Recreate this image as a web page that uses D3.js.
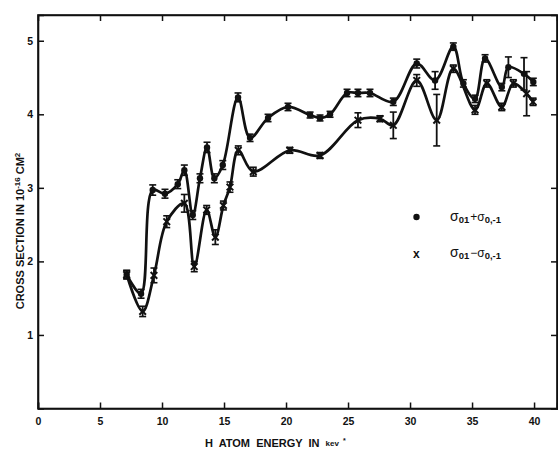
<!DOCTYPE html>
<html>
<head>
<meta charset="utf-8">
<script src="https://cdn.jsdelivr.net/npm/d3@7"></script>
<style>
  body { margin: 0; background: #fff; }
  svg { display: block; }
  text { font-family: "Liberation Sans", Arial, sans-serif; font-weight: bold; fill: #111; }
</style>
</head>
<body>
<svg id="chart" width="558" height="449"></svg>
<script>
// sigma01 + sigma0,-1 (dots)
var sumEnergy = [7.15, 8.31, 9.25, 10.24, 11.27, 11.8, 12.48, 13.06, 13.63, 14.22, 14.9, 16.13, 17.1, 18.55, 20.16, 21.94, 22.74, 23.55, 24.92, 25.8, 26.77, 28.65, 30.54, 32.02, 33.49, 34.3, 35.24, 36.05, 37.4, 37.93, 39.19, 39.94];
var sumValues = [1.82, 1.56, 2.97, 2.92, 3.05, 3.24, 2.63, 3.13, 3.55, 3.13, 3.31, 4.23, 3.68, 3.95, 4.1, 3.99, 3.95, 4.0, 4.29, 4.29, 4.29, 4.17, 4.69, 4.46, 4.92, 4.42, 4.21, 4.76, 4.37, 4.64, 4.55, 4.44];
var sumErrors = [0.06, 0.06, 0.07, 0.06, 0.06, 0.07, 0.06, 0.06, 0.07, 0.06, 0.06, 0.06, 0.05, 0.05, 0.05, 0.04, 0.04, 0.04, 0.05, 0.05, 0.05, 0.05, 0.06, 0.12, 0.05, 0.05, 0.05, 0.05, 0.05, 0.14, 0.22, 0.05];

// sigma01 - sigma0,-1 (crosses)
var diffEnergy = [7.15, 8.44, 9.35, 10.38, 11.8, 12.6, 13.6, 14.3, 14.95, 15.48, 16.15, 17.36, 20.3, 22.74, 25.8, 27.58, 28.65, 30.54, 32.15, 33.49, 35.24, 36.19, 37.4, 38.33, 39.4, 39.92];
var diffValues = [1.82, 1.32, 1.81, 2.54, 2.79, 1.93, 2.7, 2.33, 2.76, 3.01, 3.51, 3.22, 3.51, 3.44, 3.92, 3.94, 3.85, 4.46, 3.92, 4.62, 4.06, 4.42, 4.1, 4.42, 4.28, 4.17];
var diffErrors = [0.05, 0.07, 0.1, 0.08, 0.12, 0.07, 0.06, 0.1, 0.06, 0.07, 0.06, 0.06, 0.04, 0.04, 0.1, 0.04, 0.18, 0.08, 0.35, 0.05, 0.06, 0.05, 0.05, 0.05, 0.3, 0.05];

var xTicks = [0, 5, 10, 15, 20, 25, 30, 35, 40];
var yTicks = [1, 2, 3, 4, 5];

function Init() {
    var svg = d3.select("#chart");
    var padding = {top: 15, right: 1, bottom: 40.5, left: 38};
    var width = 558 - padding.left - padding.right;
    var height = 449 - padding.top - padding.bottom;

    var xScale = d3.scaleLinear().domain([0, 41.85]).range([0, width]);
    var yScale = d3.scaleLinear().domain([0, 5.35]).range([height, 0]);

    var g = svg.append("g")
       .attr("transform", "translate(" + padding.left + "," + padding.top + ")");

    // Axes, ticks pointing inward on all four sides
    g.append("g")
       .attr("transform", "translate(0," + height + ")")
       .call(d3.axisBottom(xScale).tickValues(xTicks).tickSize(-6).tickPadding(9).tickFormat(d3.format("d")));
    g.append("g")
       .call(d3.axisTop(xScale).tickValues(xTicks.slice(1)).tickSize(-6).tickFormat(""));
    g.append("g")
       .call(d3.axisLeft(yScale).tickValues(yTicks).tickSize(-6).tickPadding(5).tickFormat(d3.format("d")));
    g.append("g")
       .attr("transform", "translate(" + width + ",0)")
       .call(d3.axisRight(yScale).tickValues(yTicks).tickSize(-6).tickFormat(""));

    g.selectAll(".domain").attr("stroke", "#111").attr("stroke-width", 1.6);
    g.selectAll(".tick line").attr("stroke", "#111").attr("stroke-width", 1.5);
    g.selectAll(".tick text").style("font-size", "10.5px").style("font-weight", "bold")
       .style("font-family", "'Liberation Sans', Arial, sans-serif").attr("fill", "#111");

    // frame
    g.append("rect")
       .attr("width", width).attr("height", height)
       .attr("fill", "none").attr("stroke", "#111").attr("stroke-width", 1.6);

    var series = [
        {energy: sumEnergy, values: sumValues, errors: sumErrors, mark: "dot"},
        {energy: diffEnergy, values: diffValues, errors: diffErrors, mark: "cross"}
    ];

    var line = d3.line()
       .x(function(d) { return xScale(d.x); })
       .y(function(d) { return yScale(d.y); })
       .curve(d3.curveCatmullRom.alpha(0.5));

    series.forEach(function(s) {
        var pts = s.energy.map(function(e, i) { return {x: e, y: s.values[i], err: s.errors[i]}; });

        g.append("path")
           .datum(pts)
           .attr("d", line)
           .attr("fill", "none")
           .attr("stroke", "#111")
           .attr("stroke-width", 2.7)
           .attr("stroke-linejoin", "round");

        // error bars
        var bars = g.append("g").selectAll("g").data(pts).enter().append("g");
        bars.append("line")
           .attr("x1", function(d) { return xScale(d.x); })
           .attr("x2", function(d) { return xScale(d.x); })
           .attr("y1", function(d) { return yScale(d.y - d.err); })
           .attr("y2", function(d) { return yScale(d.y + d.err); })
           .attr("stroke", "#111").attr("stroke-width", 1.8);
        [-1, 1].forEach(function(sign) {
            bars.append("line")
               .attr("x1", function(d) { return xScale(d.x) - 3.5; })
               .attr("x2", function(d) { return xScale(d.x) + 3.5; })
               .attr("y1", function(d) { return yScale(d.y + sign * d.err); })
               .attr("y2", function(d) { return yScale(d.y + sign * d.err); })
               .attr("stroke", "#111").attr("stroke-width", 1.6);
        });

        if (s.mark == "dot") {
            bars.append("circle")
               .attr("cx", function(d) { return xScale(d.x); })
               .attr("cy", function(d) { return yScale(d.y); })
               .attr("r", 3.2)
               .attr("fill", "#111");
        } else {
            bars.append("path")
               .attr("d", function(d) {
                   var cx = xScale(d.x), cy = yScale(d.y), r = 3.3;
                   return "M" + (cx - r) + "," + (cy - r) + "L" + (cx + r) + "," + (cy + r) +
                          "M" + (cx - r) + "," + (cy + r) + "L" + (cx + r) + "," + (cy - r);
               })
               .attr("stroke", "#111").attr("stroke-width", 2);
        }
    });

    // Legend
    svg.append("circle").attr("cx", 416.5).attr("cy", 217).attr("r", 3.2).attr("fill", "#111");
    svg.append("text").attr("x", 413).attr("y", 257.5).style("font-size", "12px").text("x");

    var leg1 = svg.append("text").attr("x", 450).attr("y", 221).style("font-size", "14px").style("font-weight", "normal");
    leg1.append("tspan").text("σ");
    leg1.append("tspan").attr("dy", 2).style("font-size", "9.5px").style("font-weight", "bold").text("01");
    leg1.append("tspan").attr("dy", -2).attr("dx", 1).style("font-size", "12px").text("+σ");
    leg1.append("tspan").attr("dy", 2).style("font-size", "9.5px").style("font-weight", "bold").text("0,-1");

    var leg2 = svg.append("text").attr("x", 450).attr("y", 257).style("font-size", "14px").style("font-weight", "normal");
    leg2.append("tspan").text("σ");
    leg2.append("tspan").attr("dy", 2).style("font-size", "9.5px").style("font-weight", "bold").text("01");
    leg2.append("tspan").attr("dy", -2).attr("dx", 1).style("font-size", "12px").text("−σ");
    leg2.append("tspan").attr("dy", 2).style("font-size", "9.5px").style("font-weight", "bold").text("0,-1");

    // Axis titles
    var xt = svg.append("text")
       .attr("x", 205).attr("y", 447)
       .style("font-size", "11px")
       .style("white-space", "pre")
       .attr("xml:space", "preserve");
    xt.append("tspan").text("H  ATOM  ENERGY  IN ");
    xt.append("tspan").attr("dx", 3).attr("dy", -1).style("font-size", "8px").text("kev");
    xt.append("tspan").attr("dx", 4).attr("dy", -3).style("font-size", "7px").text("*");

    var yt = svg.append("text")
       .attr("transform", "translate(24,231) rotate(-90)")
       .attr("text-anchor", "middle")
       .style("font-size", "11px");
    yt.append("tspan").text("CROSS  SECTION  IN  10");
    yt.append("tspan").attr("dy", -4).style("font-size", "8px").text("-16");
    yt.append("tspan").attr("dy", 4).attr("dx", 3).text("CM");
    yt.append("tspan").attr("dy", -4).style("font-size", "8px").text("2");
}

Init();
</script>
</body>
</html>
